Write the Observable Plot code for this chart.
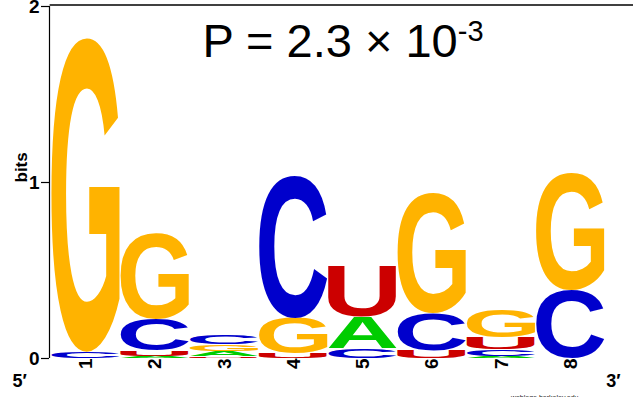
<!DOCTYPE html>
<html><head><meta charset="utf-8">
<script src="https://cdn.jsdelivr.net/npm/d3@7"></script>
<script src="https://cdn.jsdelivr.net/npm/@observablehq/plot@0.6"></script>
<style>
html,body{margin:0;padding:0;background:#fff;overflow:hidden}
</style>
</head><body><div id="chart"></div>
<script>
// ---- data (bits per letter at each position) ----
const positions = [1, 2, 3, 4, 5, 6, 7, 8];
const bitsA = [0.000, 0.012, 0.030, 0.000, 0.180, 0.000, 0.012, 0.000];
const bitsC = [0.035, 0.180, 0.055, 0.810, 0.055, 0.210, 0.040, 0.390];
const bitsG = [1.785, 0.490, 0.040, 0.200, 0.000, 0.680, 0.160, 0.670];
const bitsU = [0.000, 0.030, 0.010, 0.025, 0.290, 0.045, 0.065, 0.000];
const yTicks = [0, 1, 2];
const yLabel = "bits";
const titleMain = "P = 2.3 \u00D7 10";
const titleExp = "-3";
const endLabels = ["5\u2032", "3\u2032"];
const credit = "weblogo.berkeley.edu";

const letterColors = {A: "#00CC00", C: "#0000CC", G: "#FFB300", U: "#CC0000"};
const FONT = "'Liberation Sans', Arial, Helvetica, sans-serif";
const NS = "http://www.w3.org/2000/svg";

// build stacked rows (smallest at bottom)
const rows = [];
positions.forEach((p, i) => {
  const col = [
    {letter: "A", h: bitsA[i]}, {letter: "C", h: bitsC[i]},
    {letter: "G", h: bitsG[i]}, {letter: "U", h: bitsU[i]}
  ].filter(d => d.h > 0).sort((a, b) => a.h - b.h);
  let y = 0;
  for (const d of col) { rows.push({pos: p, letter: d.letter, y1: y, y2: y + d.h}); y += d.h; }
});

// glyph ink metrics
const ctx = document.createElement("canvas").getContext("2d");
ctx.font = `bold 100px ${FONT}`;
const fallback = {A: [0, 72, 72, 0], C: [-4, 68, 74, 1.5], G: [-4, 73, 74, 1.5], U: [-7, 65, 72, 1.5]};
const metrics = {};
function ink(letter) {
  if (!metrics[letter]) {
    const m = ctx.measureText(letter);
    let r = {l: m.actualBoundingBoxLeft, r: m.actualBoundingBoxRight, a: m.actualBoundingBoxAscent, d: m.actualBoundingBoxDescent};
    if (!(r.l + r.r > 0) || !(r.a + r.d > 0)) {
      const f = fallback[letter]; r = {l: f[0], r: f[1], a: f[2], d: f[3]};
    }
    metrics[letter] = r;
  }
  return metrics[letter];
}

function drawLetters(index, scales, values) {
  const g = document.createElementNS(NS, "g");
  for (const i of index) {
    const d = rows[i];
    const x1 = Math.min(values.x1[i], values.x2[i]), x2 = Math.max(values.x1[i], values.x2[i]);
    const yTop = Math.min(values.y1[i], values.y2[i]), yBot = Math.max(values.y1[i], values.y2[i]);
    const w = x2 - x1, h = yBot - yTop;
    if (h <= 0 || w <= 0) continue;
    const m = ink(d.letter);
    const sx = w / (m.l + m.r), sy = h / (m.a + m.d);
    const t = document.createElementNS(NS, "text");
    t.setAttribute("transform", `translate(${x1},${yTop}) scale(${sx},${sy}) translate(${m.l},${m.a})`);
    t.setAttribute("font-family", FONT);
    t.setAttribute("font-weight", "bold");
    t.setAttribute("font-size", "100");
    t.setAttribute("text-anchor", "start");
    t.setAttribute("fill", letterColors[d.letter]);
    t.textContent = d.letter;
    g.appendChild(t);
  }
  return g;
}

function addSuperscript(index, scales, values, dimensions, context, next) {
  const g = next(index, scales, values, dimensions, context);
  const t = g.querySelector("text");
  if (t) {
    t.textContent = titleMain;
    const s = document.createElementNS(NS, "tspan");
    s.setAttribute("font-size", "29");
    s.setAttribute("dy", "-16");
    s.textContent = titleExp;
    t.appendChild(s);
  }
  return g;
}

const xDomain = [positions[0] - 0.5, positions[positions.length - 1] + 0.5];

const chart = Plot.plot({
  width: 633,
  height: 397,
  marginLeft: 51,
  marginRight: 28,
  marginTop: 6,
  marginBottom: 39,
  style: {fontFamily: FONT, fontSize: "14px", fontWeight: "bold", color: "#000", background: "#fff", overflow: "visible"},
  x: {domain: xDomain, axis: null},
  y: {domain: [0, 2], axis: null},
  marks: [
    Plot.ruleY([yTicks[yTicks.length - 1]], {x1: xDomain[0] - 0.02, x2: xDomain[1] + 0.5, strokeWidth: 1.6, dy: -1.5}),
    Plot.ruleX([xDomain[0]], {y1: yTicks[0], y2: yTicks[yTicks.length - 1], dx: -2, strokeWidth: 1.2}),
    Plot.tickY(yTicks, {y: d => d, frameAnchor: "left", strokeWidth: 1.2,
      render: (i, s, v, d, c, next) => { const g = next(i, s, v, d, c); g.querySelectorAll("line").forEach(l => { l.setAttribute("x1", d.marginLeft - 10); l.setAttribute("x2", d.marginLeft - 2); }); return g; }}),
    Plot.text(yTicks, {y: d => d, text: d => String(d), frameAnchor: "left", textAnchor: "end", lineAnchor: "middle", dx: -12, fontSize: 19}),
    Plot.text([yLabel], {frameAnchor: "left", rotate: -90, lineAnchor: "middle", dx: -30, fontSize: 17}),
    Plot.text(positions, {x: d => d, text: d => String(d), frameAnchor: "bottom", rotate: -90, textAnchor: "end", lineAnchor: "middle", dy: 0, fontSize: 19}),
    Plot.rectY(rows, {x1: d => d.pos - 0.495, x2: d => d.pos + 0.495, y1: "y1", y2: "y2", render: drawLetters}),
    Plot.text([titleMain], {frameAnchor: "top-left", textAnchor: "start", lineAnchor: "bottom", dx: 151, dy: 50, fontSize: 47, fontWeight: "normal", render: addSuperscript}),
    Plot.text([endLabels[0]], {frameAnchor: "bottom-left", lineAnchor: "bottom", dx: -39, dy: 28, fontSize: 18}),
    Plot.text([endLabels[1]], {frameAnchor: "bottom-right", lineAnchor: "bottom", dx: 15, dy: 28, fontSize: 18}),
    Plot.text([credit], {frameAnchor: "bottom-right", lineAnchor: "bottom", dx: -27, dy: 41, fontSize: 7, fontWeight: "normal", fill: "#222"})
  ]
});
document.getElementById("chart").appendChild(chart);
</script>
</body></html>
